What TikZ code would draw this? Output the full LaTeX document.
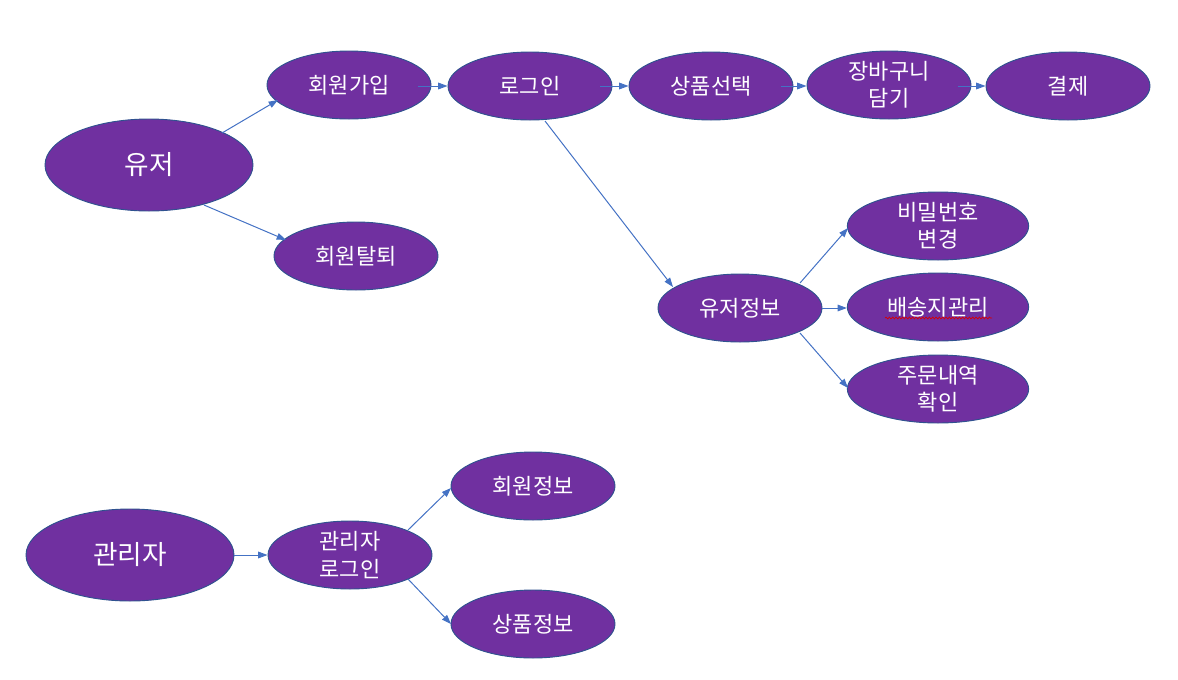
\documentclass[tikz,border=0pt]{standalone}
\usepackage{fontspec}
\newfontfamily\kr{Noto Sans CJK KR}
\usetikzlibrary{arrows.meta,calc,shapes.geometric,decorations.pathmorphing}
\definecolor{fillp}{HTML}{7030A0}
\definecolor{edgeb}{HTML}{2F528F}
\definecolor{arrb}{HTML}{4472C4}
\begin{document}
\begin{tikzpicture}[x=0.75pt,y=-0.75pt,
  ell/.style={ellipse, draw=edgeb, line width=0.7pt, fill=fillp, text=white,
    font=\kr\fontsize{16.5}{20.5}\selectfont, inner sep=0pt, align=center,
    minimum width=123pt, minimum height=51pt},
  big/.style={ell, minimum width=156pt, minimum height=69pt, font=\kr\fontsize{20}{24}\selectfont},
  wide/.style={ell, minimum width=136pt},
  arr/.style={draw=arrb, line width=0.75pt, -{Triangle[length=7pt,width=5pt]}}]
\useasboundingbox (0,0) rectangle (1178,679);
\node[big] (u) at (149,165) {유저};
\node[ell] (join) at (349,85) {회원가입};
\node[ell] (login) at (530,86) {로그인};
\node[ell] (sel) at (711,86) {상품선택};
\node[ell] (cart) at (889,85) {장바구니\\담기};
\node[ell] (pay) at (1068,86) {결제};
\node[ell] (quit) at (356,256) {회원탈퇴};
\node[ell] (info) at (740,308) {유저정보};
\node[wide] (pw) at (938,226) {비밀번호\\변경};
\node[wide] (ship) at (938,307) {배송지관리};
\node[wide] (order) at (938,389) {주문내역\\확인};
\node[big] (adm) at (130,555) {관리자};
\node[ell] (alog) at (350,555) {관리자\\로그인};
\node[ell] (minfo) at (533,486) {회원정보};
\node[ell] (pinfo) at (533,624) {상품정보};
\draw[red!85!black, line width=0.5pt, decorate, decoration={snake, amplitude=0.7pt, segment length=2.5pt}] ($(ship)+(-53,11)$) -- ($(ship)+(54,11)$);
\draw[arr] ($(u)+(73,-32)$) -- ($(join)+(-71,15)$);
\draw[arr] ($(u)+(55,40)$) -- ($(quit)+(-70,-16)$);
\draw[arr] ($(join)+(69,1)$) -- (login.west);
\draw[arr] ($(login)+(70,0)$) -- (sel.west);
\draw[arr] ($(sel)+(70,0)$) -- ($(cart.west)+(0,1)$);
\draw[arr] ($(cart)+(69,1)$) -- (pay.west);
\draw[arr] ($(login)+(15,35)$) -- ($(info)+(-67,-21)$);
\draw[arr] ($(info)+(60,-25)$) -- ($(pw)+(-90,2)$);
\draw[arr] (info.east) -- ($(ship.west)+(0,1)$);
\draw[arr] ($(info)+(60,25)$) -- ($(order)+(-90,-1)$);
\draw[arr] (adm.east) -- (alog.west);
\draw[arr] ($(alog)+(58,-25)$) -- ($(minfo)+(-82,2)$);
\draw[arr] ($(alog)+(58,24)$) -- ($(pinfo)+(-82,0)$);
\end{tikzpicture}
\end{document}
